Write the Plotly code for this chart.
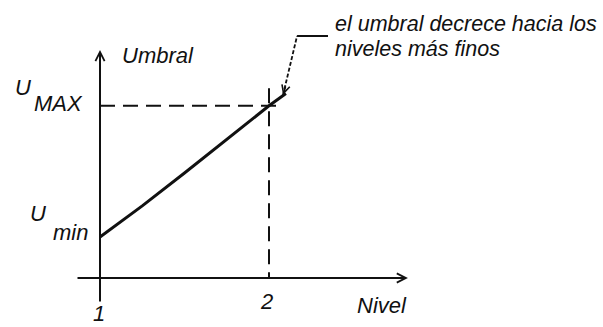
import plotly.graph_objects as go

# Threshold (umbral) as a function of decomposition level (nivel)
levels = [1, 2]
level_labels = ["1", "2"]
u_min = 1.0
u_max = 4.2
curve_level = [1.0, 1.25, 1.5, 1.75, 2.0, 2.1]
curve_umbral = [1.0, 1.76, 2.56, 3.37, 4.2, 4.5]

note_lines = ["el umbral decrece hacia los", "niveles más finos"]

FONT = dict(family="Liberation Sans, Arial, sans-serif", size=22, color="#111111", style="italic")
NOTE_FONT = dict(FONT, size=21.5)
INK = "#111111"

# Axis extents and leader-line corners (data units)
x_axis_from, x_axis_to = 0.858, 2.822
y_axis_from, y_axis_to = -0.61, 5.56
h_guide_to = 2.083
v_guide_to = 4.63
leader = dict(tip=(2.083, 4.463), knee=(2.166, 5.902), end=(2.349, 5.902))

fig = go.Figure()

# threshold curve
fig.add_trace(go.Scatter(x=curve_level, y=curve_umbral, mode="lines",
                         line=dict(color=INK, width=3), hoverinfo="skip"))

# dashed guides at U_MAX and level 2
fig.add_trace(go.Scatter(x=[levels[0], h_guide_to], y=[u_max, u_max], mode="lines",
                         line=dict(color=INK, width=2, dash="15px,8px"), hoverinfo="skip"))
fig.add_trace(go.Scatter(x=[levels[1], levels[1]], y=[v_guide_to, 0], mode="lines",
                         line=dict(color=INK, width=2, dash="15px,8px"), hoverinfo="skip"))

# leader from the note to the curve
fig.add_trace(go.Scatter(x=[leader["tip"][0], leader["knee"][0]],
                         y=[leader["tip"][1], leader["knee"][1]], mode="lines",
                         line=dict(color=INK, width=1.8, dash="4px,2px"), hoverinfo="skip"))
fig.add_trace(go.Scatter(x=[leader["knee"][0], leader["end"][0]],
                         y=[leader["knee"][1], leader["end"][1]], mode="lines",
                         line=dict(color=INK, width=2), hoverinfo="skip"))

ann = []
# axes drawn as arrows
ann.append(dict(x=x_axis_to, y=0, ax=x_axis_from, ay=0, axref="x", ayref="y",
                xref="x", yref="y", text="", showarrow=True, arrowhead=5,
                arrowsize=0.9, arrowwidth=2, arrowcolor=INK))
ann.append(dict(x=levels[0], y=y_axis_to, ax=levels[0], ay=y_axis_from, axref="x", ayref="y",
                xref="x", yref="y", text="", showarrow=True, arrowhead=5,
                arrowsize=0.9, arrowwidth=2, arrowcolor=INK))
# arrowhead of the leader
ann.append(dict(x=leader["tip"][0], y=leader["tip"][1], ax=3, ay=-10, text="",
                showarrow=True, arrowhead=5, arrowsize=1, arrowwidth=1.6, arrowcolor=INK))

# axis titles
ann.append(dict(x=levels[0], y=y_axis_to, text="Umbral", showarrow=False, font=FONT,
                xanchor="left", yanchor="middle", xshift=20, yshift=-5))
ann.append(dict(x=x_axis_to, y=0, text="Nivel", showarrow=False, font=FONT,
                xanchor="right", yanchor="middle", xshift=1, yshift=-27))

# level tick labels
ann.append(dict(x=levels[0], y=0, text=level_labels[0], showarrow=False, font=FONT,
                xanchor="center", yanchor="middle", xshift=-1, yshift=-35))
ann.append(dict(x=levels[1], y=0, text=level_labels[1], showarrow=False, font=FONT,
                xanchor="center", yanchor="middle", xshift=-3, yshift=-23))

# threshold labels U_MAX and U_min
ann.append(dict(x=levels[0], y=u_max, text="U", showarrow=False, font=FONT,
                xanchor="center", yanchor="middle", xshift=-77, yshift=18))
ann.append(dict(x=levels[0], y=u_max, text="MAX", showarrow=False, font=FONT,
                xanchor="center", yanchor="middle", xshift=-42, yshift=2))
ann.append(dict(x=levels[0], y=u_min, text="U", showarrow=False, font=FONT,
                xanchor="center", yanchor="middle", xshift=-62, yshift=24))
ann.append(dict(x=levels[0], y=u_min, text="min", showarrow=False, font=FONT,
                xanchor="center", yanchor="middle", xshift=-30, yshift=5))

# note text
ann.append(dict(x=leader["end"][0], y=leader["end"][1], text=note_lines[0], showarrow=False,
                font=NOTE_FONT, xanchor="left", yanchor="middle", xshift=5, yshift=12))
ann.append(dict(x=leader["end"][0], y=leader["end"][1], text=note_lines[1], showarrow=False,
                font=NOTE_FONT, xanchor="left", yanchor="middle", xshift=5, yshift=-13))

fig.update_layout(
    width=603, height=327,
    margin=dict(l=0, r=0, t=0, b=0),
    paper_bgcolor="white", plot_bgcolor="white",
    showlegend=False,
    annotations=ann,
    xaxis=dict(visible=False, range=[0.4083, 3.9763], domain=[0, 1], fixedrange=True),
    yaxis=dict(visible=False, range=[-1.195, 6.780], domain=[0, 1], fixedrange=True),
)

fig.write_html("out.html", config=dict(displayModeBar=False))
